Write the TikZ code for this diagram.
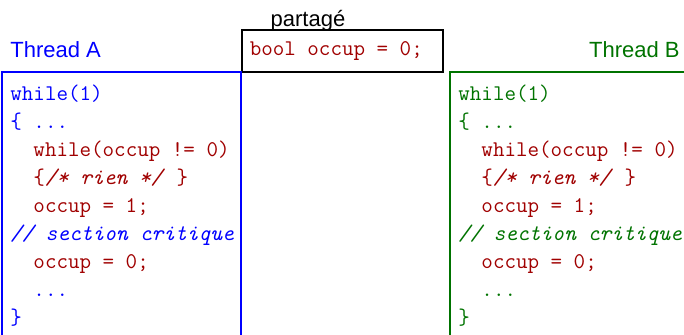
\documentclass[tikz,border=0pt]{standalone}
\usepackage{fontspec}
\setmainfont{Liberation Sans}
\usepackage{xcolor}
\usetikzlibrary{positioning}
\definecolor{codered}{RGB}{160,0,0}
\definecolor{threadgreen}{RGB}{0,115,0}
\newcommand{\ind}{\phantom{xx}}

\begin{document}
\begin{tikzpicture}[x=0.5pt,y=-0.5pt,
  title/.style={font=\fontsize{11}{13}\selectfont, inner sep=0pt},
  code/.style={font=\fontsize{11.2}{14}\selectfont\ttfamily, align=left, inner sep=0pt, anchor=north west}]
\useasboundingbox (0,0) rectangle (684,334);

% Shared variable
\node[draw, line width=0.75pt, anchor=north west, inner xsep=4pt, inner ysep=0pt,
      text height=13pt, text depth=8pt, text=codered,
      font=\fontsize{11.2}{14}\selectfont\ttfamily] (shared) at (241,29)
      {\makebox[92.5pt][l]{bool occup = 0;}};
\node[title, anchor=base] (partage) at (308,26) {partagé};

% Thread boxes and their code
\foreach \x/\name/\col in {10/A/blue, 458/B/threadgreen} {
    % Open box
    \draw[\col, line width=0.75pt] (\x-8,340) |- (\x+231,72) -- (\x+231,340);

    % Code
    \node[code, text=\col] (code\name) at (\x,85) {while(1)\\
      \{ ...\\
      \ind\textcolor{codered}{while(occup != 0)}\\
      \ind\textcolor{codered}{\{\textit{/* rien */} \}}\\
      \ind\textcolor{codered}{occup = 1;}\\
      \textit{// section critique}\\
      \ind\textcolor{codered}{occup = 0;}\\
      \ind...\\
      \}};
}

% Thread labels
\node[title, anchor=base west, text=blue] (threadA) at (10,57) {Thread A};
\node[title, anchor=base east, text=threadgreen] (threadB) at (680,57) {Thread B};
\end{tikzpicture}
\end{document}
